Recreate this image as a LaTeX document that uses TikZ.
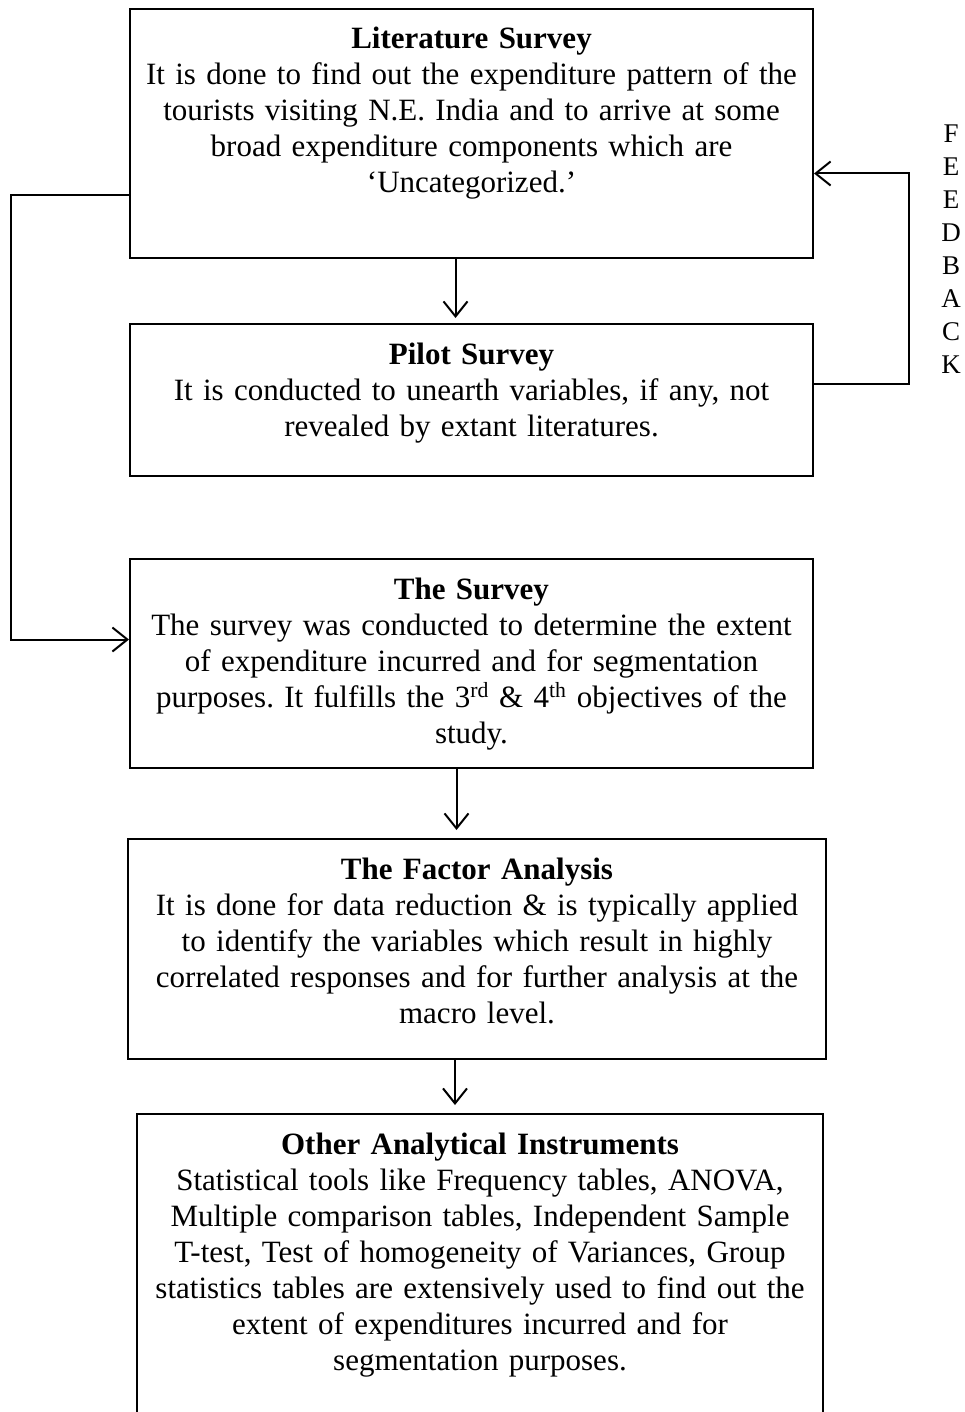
\documentclass[tikz,border=0pt]{standalone}
\usepackage{fontspec}
\setmainfont[WordSpace=0.75]{Liberation Serif}
\frenchspacing
\usetikzlibrary{arrows.meta,positioning,calc}

\begin{document}
\begin{tikzpicture}[
    x=1pt, y=1pt,
    every node/.style={font=\fontsize{31}{36}\selectfont},
    stagebox/.style={rectangle, draw, line width=2pt, anchor=north, align=center,
                     inner xsep=8pt, inner ysep=6pt, text height=34pt},
    arrow/.style={-{Straight Barb[length=15pt, width=24pt]}, line width=2pt}
]
\useasboundingbox (0,0) rectangle (964,-1412);

\node[stagebox, text width=667pt, text depth=203pt] (lit) at (471.5,-8)
  {\textbf{Literature Survey}\\
   It is done to find out the expenditure pattern of the\\
   tourists visiting N.E. India and to arrive at some\\
   broad expenditure components which are\\
   `Uncategorized.'};
\node[stagebox, text width=667pt, text depth=106pt] (pilot) at (471.5,-323)
  {\textbf{Pilot Survey}\\
   It is conducted to unearth variables, if any, not\\
   revealed by extant literatures.};
\node[stagebox, text width=667pt, text depth=163pt] (survey) at (471.5,-558)
  {\textbf{The Survey}\\
   The survey was conducted to determine the extent\\
   of expenditure incurred and for segmentation\\
   purposes. It fulfills the 3\textsuperscript{rd} \& 4\textsuperscript{th} objectives of the\\
   study.};
\node[stagebox, text width=682pt, text depth=174pt] (factor) at (477,-838)
  {\textbf{The Factor Analysis}\\
   It is done for data reduction \& is typically applied\\
   to identify the variables which result in highly\\
   correlated responses and for further analysis at the\\
   macro level.};
\node[stagebox, text width=670pt, text depth=284pt] (other) at (480,-1113)
  {\textbf{Other Analytical Instruments}\\
   Statistical tools like Frequency tables, ANOVA,\\
   Multiple comparison tables, Independent Sample\\
   T-test, Test of homogeneity of Variances, Group\\
   statistics tables are extensively used to find out the\\
   extent of expenditures incurred and for\\
   segmentation purposes.};

% Feedback label
\node[font=\fontsize{27}{33}\selectfont, align=center, anchor=north, inner sep=0pt] (fbk) at (951,-125)
  {F\\E\\E\\D\\B\\A\\C\\K};

% Arrows
\draw[arrow, shorten >=5pt] ([xshift=-16pt]lit.south) -- ([xshift=-16pt]lit.south |- pilot.north);
\draw[arrow, shorten >=8pt] ([xshift=-15pt]survey.south) -- ([xshift=-15pt]survey.south |- factor.north);
\draw[arrow, shorten >=8pt] ([xshift=-22pt]factor.south) -- ([xshift=-22pt]factor.south |- other.north);
\draw[arrow] ([yshift=16pt]pilot.east) -- ++(95,0) |- ([yshift=-40pt]lit.east);
\draw[arrow] ([yshift=-62pt]lit.west) -- ++(-118,0) |- ([yshift=24pt]survey.west);

\end{tikzpicture}
\end{document}
